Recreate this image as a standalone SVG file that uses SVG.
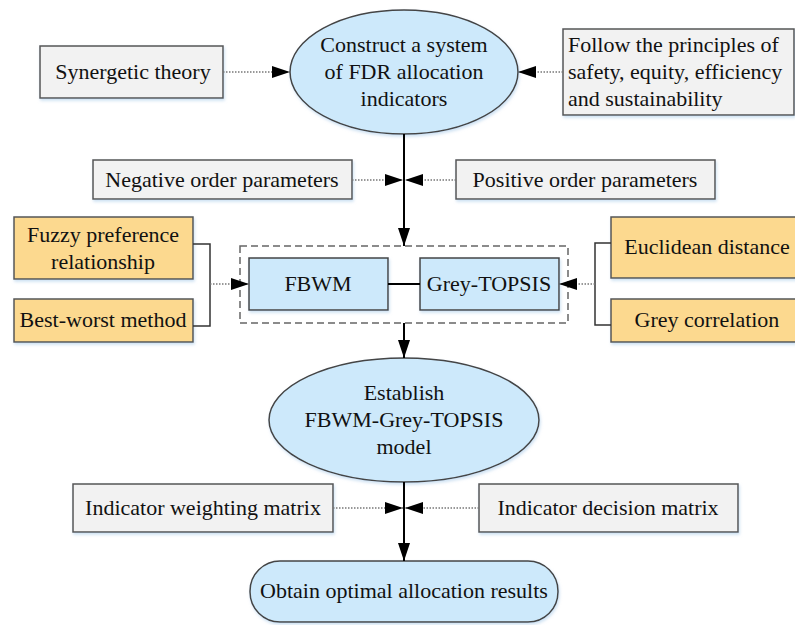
<svg xmlns="http://www.w3.org/2000/svg" width="795" height="625" viewBox="0 0 795 625">
<style>
text{font-family:'Liberation Serif','Times New Roman','DejaVu Serif',serif;font-size:22px;fill:#111;text-anchor:middle}
.g{fill:#f2f2f2;stroke:#555;stroke-width:1.5}
.o{fill:#fcd98f;stroke:#555;stroke-width:1.5}
.b{fill:#cde9fb;stroke:#444;stroke-width:1.5}
.dot{fill:none;stroke:#777;stroke-width:1.5;stroke-dasharray:1.5 1.5;marker-end:url(#ah)}
.sol{fill:none;stroke:#000;stroke-width:2}
.arr{fill:none;stroke:#000;stroke-width:2;marker-end:url(#ah)}
.br{fill:none;stroke:#333;stroke-width:1.5}
</style>
<defs>
<marker id="ah" viewBox="0 0 18 12" refX="18" refY="6" markerWidth="18" markerHeight="12" orient="auto" markerUnits="userSpaceOnUse"><path d="M0,0 L18,6 L0,12 z" fill="#000"/></marker>
<filter id="sh" x="-10%" y="-10%" width="120%" height="130%"><feDropShadow dx="1" dy="2" stdDeviation="1.5" flood-color="#9cc3e6" flood-opacity="0.5"/></filter>
</defs>
<rect width="795" height="625" fill="#fff"/>
<g font-family="Liberation Serif, serif">
<g id="n-construct"><ellipse class="b" cx="404" cy="72" rx="114" ry="62" filter="url(#sh)"/><text x="404" y="52">Construct a system</text><text x="404" y="79">of FDR allocation</text><text x="404" y="106">indicators</text></g>
<g id="n-synergetic"><rect class="g" x="40" y="46" width="183" height="52" filter="url(#sh)"/><text x="133" y="79">Synergetic theory</text></g>
<g id="n-follow"><rect class="g" x="563" y="29" width="231" height="86" filter="url(#sh)"/><text x="568" y="52" style="text-anchor:start">Follow the principles of</text><text x="568" y="79" style="text-anchor:start">safety, equity, efficiency</text><text x="568" y="106" style="text-anchor:start">and sustainability</text></g>
<g id="n-negative"><rect class="g" x="93" y="160" width="259" height="39" filter="url(#sh)"/><text x="222" y="187">Negative order parameters</text></g>
<g id="n-positive"><rect class="g" x="456" y="160" width="259" height="39" filter="url(#sh)"/><text x="585" y="187">Positive order parameters</text></g>
<g id="n-fuzzy"><rect class="o" x="14" y="217" width="179" height="62" filter="url(#sh)"/><text x="103" y="242">Fuzzy preference</text><text x="103" y="269">relationship</text></g>
<g id="n-bwm"><rect class="o" x="14" y="299" width="179" height="43" filter="url(#sh)"/><text x="103" y="327">Best-worst method</text></g>
<g id="n-group"><rect x="240" y="246" width="328" height="77" fill="none" stroke="#666" stroke-width="1.5" stroke-dasharray="7 4"/></g>
<g id="n-fbwm"><rect class="b" x="249" y="258" width="139" height="52" filter="url(#sh)"/><text x="318" y="291">FBWM</text></g>
<g id="n-grey-topsis"><rect class="b" x="420" y="258" width="139" height="52" filter="url(#sh)"/><text x="489" y="291">Grey-TOPSIS</text></g>
<g id="n-euclid"><rect class="o" x="611" y="217" width="190" height="61" filter="url(#sh)"/><text x="707" y="254">Euclidean distance</text></g>
<g id="n-greycorr"><rect class="o" x="611" y="299" width="190" height="43" filter="url(#sh)"/><text x="707" y="327">Grey correlation</text></g>
<g id="n-establish"><ellipse class="b" cx="404" cy="420" rx="135" ry="62" filter="url(#sh)"/><text x="404" y="400">Establish</text><text x="404" y="427">FBWM-Grey-TOPSIS</text><text x="404" y="454">model</text></g>
<g id="n-weighting"><rect class="g" x="73" y="484" width="260" height="48" filter="url(#sh)"/><text x="203" y="515">Indicator weighting matrix</text></g>
<g id="n-decision"><rect class="g" x="479" y="484" width="259" height="48" filter="url(#sh)"/><text x="608" y="515">Indicator decision matrix</text></g>
<g id="n-obtain"><rect class="b" x="250" y="561" width="308" height="61" rx="30" ry="30" filter="url(#sh)"/><text x="404" y="598">Obtain optimal allocation results</text></g>
</g>
<g id="connectors">
<path class="dot" d="M223,72 H290"/>
<path class="dot" d="M563,72 H518"/>
<path class="arr" d="M404,134 V246"/>
<path class="dot" d="M352,180 H403"/>
<path class="dot" d="M456,180 H405"/>
<path class="br" d="M193,244 H210 V326 H193"/>
<path class="dot" d="M210,284 H249"/>
<path class="br" d="M611,243 H595 V325 H611"/>
<path class="dot" d="M595,284 H559"/>
<path class="sol" d="M388,284 H420"/>
<path class="arr" d="M404,323 V358"/>
<path class="arr" d="M404,482 V561"/>
<path class="dot" d="M333,508 H403"/>
<path class="dot" d="M479,508 H405"/>
</g>
</svg>
